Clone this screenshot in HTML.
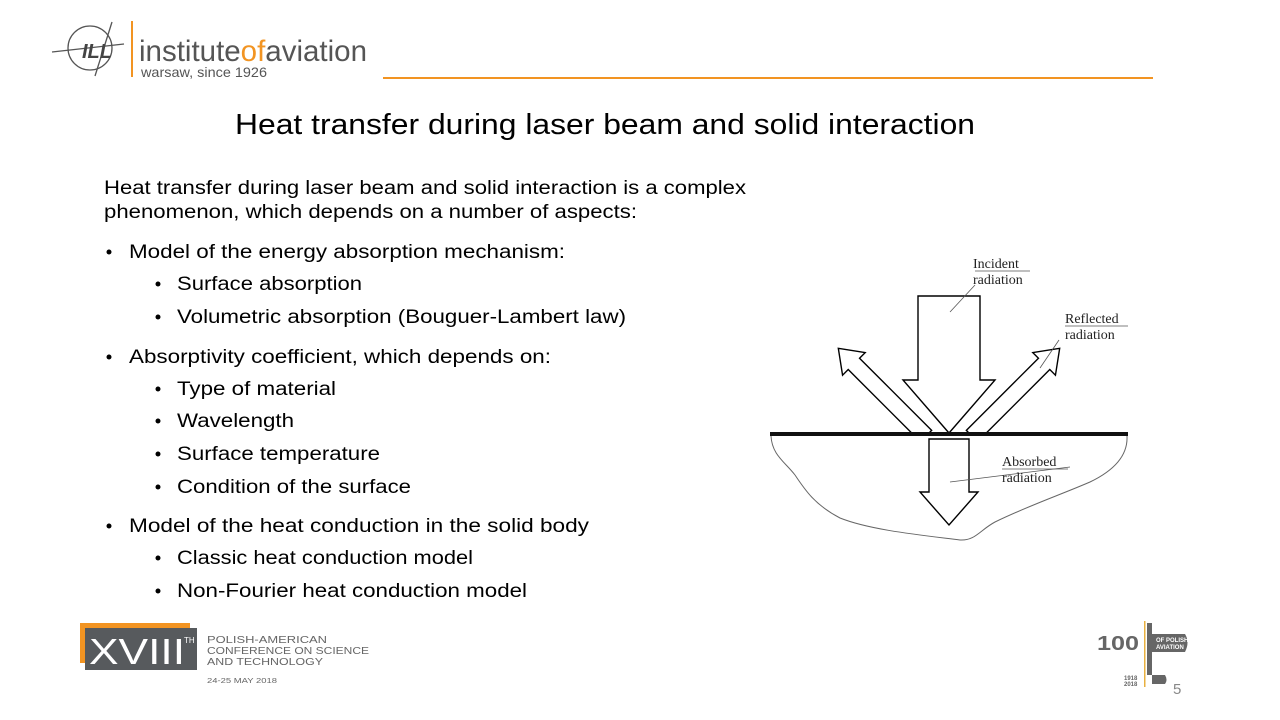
<!DOCTYPE html>
<html><head><meta charset="utf-8"><style>
html,body{margin:0;padding:0;background:#fff}
svg{display:block}
</style></head><body>
<svg width="1280" height="720" viewBox="0 0 1280 720" xmlns="http://www.w3.org/2000/svg">
<defs><clipPath id="above"><rect x="700" y="200" width="500" height="233"/></clipPath></defs>
<!-- logo -->
<g fill="none" stroke="#555" stroke-width="1.3">
<circle cx="90" cy="48" r="22"/>
<line x1="52" y1="52" x2="124" y2="44"/>
<line x1="112" y1="22" x2="95" y2="76"/>
</g>
<text x="82" y="58" font-family="Liberation Sans,sans-serif" font-weight="bold" font-style="italic" font-size="20" fill="#444">ILL</text>
<rect x="131" y="21" width="2" height="56" fill="#f29422"/>
<text x="139" y="61" font-family="Liberation Sans,sans-serif" font-size="30" fill="#555" textLength="228" lengthAdjust="spacingAndGlyphs">institute<tspan fill="#f29422">of</tspan>aviation</text>
<text x="141" y="77" font-family="Liberation Sans,sans-serif" font-size="14" fill="#555" textLength="126" lengthAdjust="spacingAndGlyphs">warsaw, since 1926</text>
<rect x="383" y="77" width="770" height="2" fill="#f29422"/>
<!-- title -->
<text x="235" y="134" font-family="Liberation Sans,sans-serif" font-size="29" fill="#000" textLength="740" lengthAdjust="spacingAndGlyphs">Heat transfer during laser beam and solid interaction</text>
<!-- body -->
<g font-family="Liberation Sans,sans-serif" font-size="19" fill="#000">
<text x="104" y="194" textLength="642" lengthAdjust="spacingAndGlyphs">Heat transfer during laser beam and solid interaction is a complex</text>
<text x="104" y="218" textLength="533" lengthAdjust="spacingAndGlyphs">phenomenon, which depends on a number of aspects:</text>
<text x="129" y="258" textLength="436" lengthAdjust="spacingAndGlyphs">Model of the energy absorption mechanism:</text>
<text x="177" y="290" textLength="185" lengthAdjust="spacingAndGlyphs">Surface absorption</text>
<text x="177" y="323" textLength="449" lengthAdjust="spacingAndGlyphs">Volumetric absorption (Bouguer-Lambert law)</text>
<text x="129" y="363" textLength="422" lengthAdjust="spacingAndGlyphs">Absorptivity coefficient, which depends on:</text>
<text x="177" y="395" textLength="159" lengthAdjust="spacingAndGlyphs">Type of material</text>
<text x="177" y="427" textLength="117" lengthAdjust="spacingAndGlyphs">Wavelength</text>
<text x="177" y="460" textLength="203" lengthAdjust="spacingAndGlyphs">Surface temperature</text>
<text x="177" y="493" textLength="234" lengthAdjust="spacingAndGlyphs">Condition of the surface</text>
<text x="129" y="532" textLength="460" lengthAdjust="spacingAndGlyphs">Model of the heat conduction in the solid body</text>
<text x="177" y="564" textLength="296" lengthAdjust="spacingAndGlyphs">Classic heat conduction model</text>
<text x="177" y="597" textLength="350" lengthAdjust="spacingAndGlyphs">Non-Fourier heat conduction model</text>
</g>
<g fill="#000">
<circle cx="109" cy="252" r="2.5"/><circle cx="109" cy="357" r="2.5"/><circle cx="109" cy="526" r="2.5"/>
<circle cx="158" cy="284" r="2.5"/><circle cx="158" cy="317" r="2.5"/><circle cx="158" cy="389" r="2.5"/>
<circle cx="158" cy="421" r="2.5"/><circle cx="158" cy="454" r="2.5"/><circle cx="158" cy="487" r="2.5"/>
<circle cx="158" cy="558" r="2.5"/><circle cx="158" cy="591" r="2.5"/>
</g>
<!-- diagram -->
<path d="M771,436 C772,455 785,462 795,475 C805,490 815,505 840,518 C870,530 920,535 960,540 C975,541 980,530 995,522 C1030,505 1060,495 1090,482 C1115,470 1128,455 1127,436" fill="none" stroke="#666" stroke-width="1"/>
<g fill="#fff" stroke="#000" stroke-width="1.4" stroke-linejoin="miter">
<g clip-path="url(#above)">
<g transform="translate(926,436) rotate(-45)">
<polygon points="-8,0 -8,-102 -16,-102 0,-124 16,-102 8,-102 8,0"/>
</g>
<g transform="translate(972,436) rotate(45)">
<polygon points="-8,0 -8,-102 -16,-102 0,-124 16,-102 8,-102 8,0"/>
</g>
</g>
<polygon points="918,296 980,296 980,380 995,380 949,433 903,380 918,380"/>
<polygon points="929,439 969,439 969,492 978,492 949,525 920,492 929,492"/>
</g>
<rect x="770" y="432" width="358" height="4" fill="#111"/>
<g stroke="#555" stroke-width="0.8">
<line x1="950" y1="312" x2="975" y2="285"/>
<line x1="975" y1="271" x2="1030" y2="271"/>
<line x1="1040" y1="368" x2="1059" y2="340"/>
<line x1="1065" y1="326" x2="1128" y2="326"/>
<line x1="950" y1="482" x2="1070" y2="467"/>
<line x1="1002" y1="469" x2="1068" y2="469"/>
</g>
<g font-family="Liberation Serif,serif" font-size="14" fill="#222">
<text x="973" y="268">Incident</text><text x="973" y="284">radiation</text>
<text x="1065" y="323">Reflected</text><text x="1065" y="339">radiation</text>
<text x="1002" y="466">Absorbed</text><text x="1002" y="482">radiation</text>
</g>
<!-- footer left -->
<rect x="80" y="623" width="110" height="40" fill="#f29422"/>
<rect x="85" y="628" width="112" height="42" fill="#575a5d"/>
<text x="89" y="664" font-family="Liberation Sans,sans-serif" font-size="36" fill="#fff" textLength="96" lengthAdjust="spacingAndGlyphs">XVIII</text>
<text x="184" y="643" font-family="Liberation Sans,sans-serif" font-size="8" fill="#fff">TH</text>
<g font-family="Liberation Sans,sans-serif" font-size="10" fill="#666">
<text x="207" y="643" textLength="120" lengthAdjust="spacingAndGlyphs">POLISH-AMERICAN</text>
<text x="207" y="654" textLength="162" lengthAdjust="spacingAndGlyphs">CONFERENCE ON SCIENCE</text>
<text x="207" y="665" textLength="116" lengthAdjust="spacingAndGlyphs">AND TECHNOLOGY</text>
<text x="207" y="683" font-size="7" textLength="70" lengthAdjust="spacingAndGlyphs">24-25 MAY 2018</text>
</g>
<!-- footer right -->
<text x="1097" y="650" font-family="Liberation Sans,sans-serif" font-weight="bold" font-size="20" fill="#666" textLength="42" lengthAdjust="spacingAndGlyphs">100</text>
<rect x="1144" y="621" width="1.5" height="66" fill="#e8b040"/>
<path d="M1147,623 L1152,623 L1152,675 L1147,675Z" fill="#666"/>
<path d="M1152,634 L1185,634 Q1190,642 1185,652 L1152,652Z" fill="#666"/>
<text x="1156" y="642" font-family="Liberation Sans,sans-serif" font-weight="bold" font-size="6" fill="#fff">OF POLISH</text>
<text x="1156" y="649" font-family="Liberation Sans,sans-serif" font-weight="bold" font-size="6" fill="#fff">AVIATION</text>
<path d="M1152,675 L1165,675 Q1168,680 1165,684 L1152,684Z" fill="#666"/>
<text x="1124" y="680" font-family="Liberation Sans,sans-serif" font-weight="bold" font-size="6" fill="#666">1918</text>
<text x="1124" y="686" font-family="Liberation Sans,sans-serif" font-weight="bold" font-size="6" fill="#666">2018</text>
<text x="1173" y="694" font-family="Liberation Sans,sans-serif" font-size="15" fill="#888">5</text>
</svg>
</body></html>
